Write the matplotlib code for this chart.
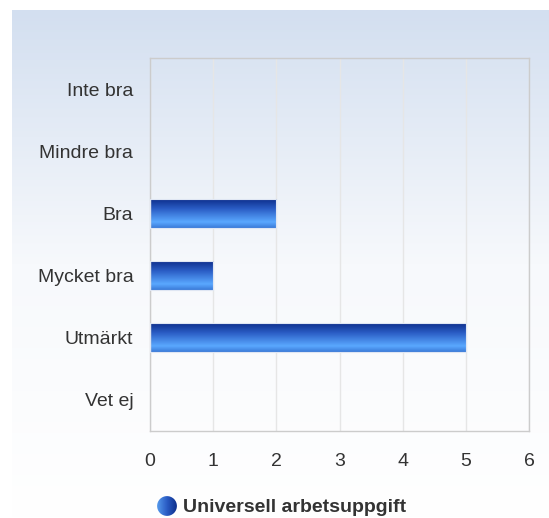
import numpy as np
import matplotlib.pyplot as plt
from matplotlib.colors import LinearSegmentedColormap
from matplotlib.patches import Rectangle, Circle

plt.rcParams['font.family'] = ['Liberation Sans', 'DejaVu Sans']

categories = ['Inte bra', 'Mindre bra', 'Bra', 'Mycket bra', 'Utmärkt', 'Vet ej']
values = [0, 0, 2, 1, 5, 0]
series_name = 'Universell arbetsuppgift'
x_ticks = [0, 1, 2, 3, 4, 5, 6]

W, H = 549, 518
fig = plt.figure(figsize=(W / 100, H / 100), dpi=100, facecolor='white')

# background panel with vertical gradient
bg = fig.add_axes([12 / W, 0, (W - 12) / W, (H - 10) / H])
bg_cmap = LinearSegmentedColormap.from_list('bg', ['#d3dff0', '#f7f9fc', '#ffffff'])
bg.imshow(np.linspace(0, 1, 256).reshape(-1, 1), aspect='auto', cmap=bg_cmap,
          extent=[0, 1, 0, 1], origin='upper')
bg.set_axis_off()

ax = fig.add_axes([150 / W, (H - 431) / H, 379 / W, 373 / H])
ax.patch.set_alpha(0)
ax.set_xticks(x_ticks)
ax.set_yticks(range(len(categories)))
ax.set_yticklabels(categories)
ax.tick_params(length=0, labelsize=14, labelcolor='#333333')
ax.tick_params(axis='x', pad=16)
ax.tick_params(axis='y', pad=12)
ax.grid(axis='x', color='#e6e6e6', linewidth=1)
ax.set_axisbelow(True)
for s in ax.spines.values():
    s.set_color('#cccccc')
    s.set_linewidth(1.0)

bar_cmap = LinearSegmentedColormap.from_list(
    'bar', [(0, '#0a2a86'), (0.35, '#2a5cc4'), (0.8, '#5aa8ff'), (1, '#3a7ad8')])
grad = np.linspace(0, 1, 128).reshape(-1, 1)
bh = 0.47
for i, v in enumerate(values):
    if v <= 0:
        continue
    rect = Rectangle((0, i - bh / 2), v, bh, facecolor='none',
                     edgecolor='#dfe6f3', linewidth=0.8, zorder=3)
    ax.add_patch(rect)
    im = ax.imshow(grad, aspect='auto', cmap=bar_cmap, zorder=2,
                   extent=[0, v, i + bh / 2, i - bh / 2], origin='upper')
    im.set_clip_path(rect)
ax.set_xlim(0, 6)
ax.set_ylim(len(categories) - 0.5, -0.5)

# legend
leg = fig.add_axes([156 / W, (H - 517) / H, 22 / W, 22 / H])
leg.set_xlim(0, 1)
leg.set_ylim(0, 1)
leg.set_axis_off()
circ = Circle((0.5, 0.5), 0.45, transform=leg.transData, facecolor='none', edgecolor='none')
leg.add_patch(circ)
leg_cmap = LinearSegmentedColormap.from_list('lg', ['#5aa0f0', '#2a5cc4', '#0a2a86'])
lim = leg.imshow(np.linspace(0, 1, 64).reshape(1, -1), aspect='auto', cmap=leg_cmap,
                 extent=[0, 1, 0, 1])
lim.set_clip_path(circ)
fig.text(183 / W, 1 - 507 / H, series_name, fontsize=14, fontweight='bold',
         color='#333333', va='center', ha='left')

fig.savefig('out.png', dpi=100, facecolor='white')
